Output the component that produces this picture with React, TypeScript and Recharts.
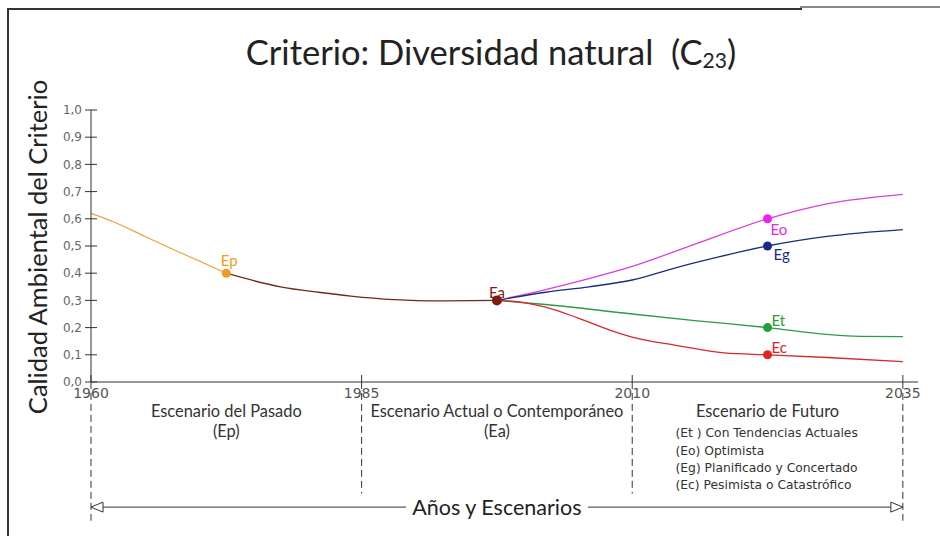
import React from 'react';
import { ComposedChart, Line, XAxis, YAxis, ReferenceDot, ReferenceLine, ReferenceArea } from 'recharts';

// ---------- data ----------
const yearTicks = [1960, 1985, 2010, 2035];
const valueTicks = [0, 0.1, 0.2, 0.3, 0.4, 0.5, 0.6, 0.7, 0.8, 0.9, 1.0];

const pastEarly = [
  { year: 1960, v: 0.62 },
  { year: 1962, v: 0.59 },
  { year: 1965, v: 0.535 },
  { year: 1968, v: 0.48 },
  { year: 1970, v: 0.445 },
  { year: 1972.5, v: 0.4 },
];
const pastLate = [
  { year: 1972.5, v: 0.4 },
  { year: 1977.5, v: 0.35 },
  { year: 1981, v: 0.33 },
  { year: 1984, v: 0.316 },
  { year: 1988, v: 0.303 },
  { year: 1992, v: 0.298 },
  { year: 1997.5, v: 0.3 },
];
const optimista = [
  { year: 1997.5, v: 0.3 },
  { year: 2002, v: 0.34 },
  { year: 2006, v: 0.38 },
  { year: 2010, v: 0.425 },
  { year: 2016, v: 0.51 },
  { year: 2022.5, v: 0.6 },
  { year: 2028, v: 0.655 },
  { year: 2035, v: 0.69 },
];
const planificado = [
  { year: 1997.5, v: 0.3 },
  { year: 2002, v: 0.33 },
  { year: 2006, v: 0.35 },
  { year: 2010, v: 0.375 },
  { year: 2014, v: 0.42 },
  { year: 2018, v: 0.46 },
  { year: 2022.5, v: 0.5 },
  { year: 2028, v: 0.535 },
  { year: 2035, v: 0.56 },
];
const tendencias = [
  { year: 1997.5, v: 0.3 },
  { year: 2002, v: 0.285 },
  { year: 2010, v: 0.25 },
  { year: 2016, v: 0.225 },
  { year: 2022.5, v: 0.2 },
  { year: 2028, v: 0.175 },
  { year: 2031, v: 0.168 },
  { year: 2035, v: 0.167 },
];
const pesimista = [
  { year: 1997.5, v: 0.3 },
  { year: 2000, v: 0.292 },
  { year: 2002, v: 0.275 },
  { year: 2005, v: 0.235 },
  { year: 2008, v: 0.19 },
  { year: 2010, v: 0.165 },
  { year: 2014, v: 0.135 },
  { year: 2018.5, v: 0.107 },
  { year: 2022.5, v: 0.1 },
  { year: 2028, v: 0.09 },
  { year: 2035, v: 0.075 },
];

const markers = [
  { name: 'Ep', year: 1972.5, v: 0.4, color: '#f39a21', r: 4.5, dx: 3, dy: -7, anchor: 'middle' },
  { name: 'Ea', year: 1997.5, v: 0.3, color: '#7f1d10', r: 5, dx: 0, dy: -2, anchor: 'middle' },
  { name: 'Eo', year: 2022.5, v: 0.6, color: '#ee22ee', r: 4.5, dx: 3, dy: 16, anchor: 'start' },
  { name: 'Eg', year: 2022.5, v: 0.5, color: '#1a2a8c', r: 4.5, dx: 6, dy: 14, anchor: 'start' },
  { name: 'Et', year: 2022.5, v: 0.2, color: '#22a03a', r: 4.5, dx: 4, dy: -2, anchor: 'start' },
  { name: 'Ec', year: 2022.5, v: 0.1, color: '#e8201f', r: 4.5, dx: 4, dy: -2, anchor: 'start' },
];

const scenarios = [
  { from: 1960, to: 1985, title: 'Escenario del Pasado', sub: ['(Ep)'], list: [] as string[] },
  { from: 1985, to: 2010, title: 'Escenario Actual o Contemporáneo', sub: ['(Ea)'], list: [] as string[] },
  {
    from: 2010,
    to: 2035,
    title: 'Escenario de Futuro',
    sub: [] as string[],
    list: [
      '(Et ) Con Tendencias Actuales',
      '(Eo) Optimista',
      '(Eg) Planificado y Concertado',
      '(Ec) Pesimista o Catastrófico',
    ],
  },
];

const titleText = 'Criterio: Diversidad natural  (C';
const titleSub = '23';
const yLabel = 'Calidad Ambiental del Criterio';
const xLabel = 'Años y Escenarios';

// ---------- helpers ----------
const fmtVal = (v: number) => v.toFixed(1).replace('.', ',');
const LABEL_FONT = 'Lato, "Open Sans", sans-serif';
const TICK_FONT = '"DejaVu Sans", Verdana, sans-serif';

const YTick = (p: any) => {
  const { x, y, payload } = p;
  return (
    <g>
      <line x1={x + 3} x2={x + 15} y1={y} y2={y} stroke="#333" strokeWidth={1} />
      <text x={x} y={y} dy="0.35em" textAnchor="end" fontSize={12} fontFamily={TICK_FONT} fill="#666">
        {fmtVal(payload.value)}
      </text>
    </g>
  );
};

const XTick = (p: any) => {
  const { x, y, payload } = p;
  return (
    <g>
      <line x1={x} x2={x} y1={y - 13} y2={y + 1} stroke="#333" strokeWidth={1} />
      <text x={x} y={y} dy="0.71em" textAnchor="middle" fontSize={14} fontFamily={TICK_FONT} fill="#555">
        {payload.value}
      </text>
    </g>
  );
};

const ArrowShape = (p: any) => {
  const { x1, y1, x2 } = p;
  const y = y1;
  const mid = (x1 + x2) / 2;
  const gap = 91;
  return (
    <g>
      <line x1={x1 + 12} x2={mid - gap} y1={y} y2={y} stroke="#333" strokeWidth={1} />
      <line x1={mid + gap} x2={x2 - 12} y1={y} y2={y} stroke="#333" strokeWidth={1} />
      <polygon points={`${x1},${y} ${x1 + 12},${y - 5} ${x1 + 12},${y + 5}`} fill="#fff" stroke="#333" strokeWidth={1} />
      <polygon points={`${x2},${y} ${x2 - 12},${y - 5} ${x2 - 12},${y + 5}`} fill="#fff" stroke="#333" strokeWidth={1} />
      <text x={mid} y={y} dy="0.35em" textAnchor="middle" fontSize={21.5} fontFamily={LABEL_FONT} fill="#222">
        {xLabel}
      </text>
    </g>
  );
};

const DashShape = (p: any) => {
  const { x1, y1, x2, y2 } = p;
  return <line x1={x1} y1={y1} x2={x2} y2={y2} stroke="#333" strokeWidth={1} strokeDasharray="7 4" />;
};

const scenarioLabel = (s: typeof scenarios[number]) => (props: any) => {
  const vb = props.viewBox || {};
  const cx = vb.x + vb.width / 2;
  const top = vb.y;
  return (
    <g>
      <text x={cx} y={top + 30} textAnchor="middle" fontSize={16.4} fontFamily={LABEL_FONT} fill="#333">
        {s.title}
      </text>
      {s.sub.map((t, i) => (
        <text key={t} x={cx} y={top + 50 + i * 20} textAnchor="middle" fontSize={16.4} fontFamily={LABEL_FONT} fill="#333">
          {t}
        </text>
      ))}
      {s.list.map((t, i) => (
        <text key={t} x={cx - 92} y={top + 50 + i * 17.3} textAnchor="start" fontSize={12.3} fontFamily={TICK_FONT} fill="#333">
          {t}
        </text>
      ))}
    </g>
  );
};

const markerLabel = (m: typeof markers[number]) => (props: any) => {
  const vb = props.viewBox || {};
  const cx = vb.x + (vb.width || 0) / 2;
  const cy = vb.y + (vb.height || 0) / 2;
  return (
    <text x={cx + m.dx} y={cy + m.dy} textAnchor={m.anchor as any} fontSize={15} fontFamily={LABEL_FONT} fill={m.color}>
      {m.name}
    </text>
  );
};

export default function App() {
  return (
    <div style={{ position: 'absolute', left: 0, top: 0, width: 940, height: 536, background: '#fff', overflow: 'hidden' }}>
      {/* frame */}
      <div style={{ position: 'absolute', left: 7, top: 8, width: 2, height: 528, background: '#333' }} />
      <div style={{ position: 'absolute', left: 7, top: 8, width: 795, height: 2, background: '#333' }} />
      <div style={{ position: 'absolute', left: 800, top: 6, width: 140, height: 2, background: '#888' }} />
      {/* title */}
      <div
        style={{
          position: 'absolute',
          left: 0,
          width: 982,
          top: 33,
          textAlign: 'center',
          fontFamily: LABEL_FONT,
          fontSize: 34.5,
          color: '#222',
          lineHeight: '38px',
          whiteSpace: 'pre',
        }}
      >
        {titleText}
        <span style={{ fontSize: 21, position: 'relative', top: 3 }}>{titleSub}</span>)
      </div>
      {/* y label */}
      <div
        style={{
          position: 'absolute',
          left: 37,
          top: 247,
          transform: 'translate(-50%, -50%) rotate(-90deg)',
          fontFamily: LABEL_FONT,
          fontSize: 25.5,
          color: '#222',
          whiteSpace: 'nowrap',
        }}
      >
        {yLabel}
      </div>
      <div style={{ position: 'absolute', left: 0, top: 0 }}>
        <ComposedChart width={940} height={536} margin={{ top: 110, right: 22, bottom: 124, left: 51 }}>
          <XAxis
            dataKey="year"
            type="number"
            domain={[1960, 2036.4]}
            ticks={yearTicks}
            allowDataOverflow
            height={30}
            tickSize={4}
            tickMargin={2}
            tickLine={false}
            axisLine={{ stroke: '#333', strokeWidth: 1 }}
            tick={<XTick />}
            interval={0}
          />
          <YAxis
            type="number"
            domain={[0, 1]}
            ticks={valueTicks}
            width={40}
            tickSize={6}
            tickMargin={3}
            tickLine={false}
            axisLine={{ stroke: '#333', strokeWidth: 1 }}
            tick={<YTick />}
            interval={0}
          />
          {yearTicks.map((t, i) => (
            <ReferenceLine
              key={'d' + t}
              segment={[
                { x: t, y: -0.04 },
                { x: t, y: i === 0 || i === yearTicks.length - 1 ? -0.51 : -0.41 },
              ]}
              ifOverflow="visible"
              shape={<DashShape />}
            />
          ))}
          <ReferenceLine
            segment={[
              { x: yearTicks[0], y: -0.46 },
              { x: yearTicks[yearTicks.length - 1], y: -0.46 },
            ]}
            ifOverflow="visible"
            shape={<ArrowShape />}
          />
          {scenarios.map((s) => (
            <ReferenceArea
              key={s.title}
              x1={s.from}
              x2={s.to}
              y1={-0.02}
              y2={-0.4}
              ifOverflow="visible"
              fill="none"
              stroke="none"
              label={{ content: scenarioLabel(s) } as any}
            />
          ))}
          <Line data={pastEarly} dataKey="v" type="monotone" stroke="#eba13d" strokeWidth={1.2} dot={false} isAnimationActive={false} />
          <Line data={pastLate} dataKey="v" type="monotone" stroke="#6e2b1c" strokeWidth={1.3} dot={false} isAnimationActive={false} />
          <Line data={optimista} dataKey="v" type="monotone" stroke="#d940d9" strokeWidth={1.3} dot={false} isAnimationActive={false} />
          <Line data={planificado} dataKey="v" type="monotone" stroke="#1c2d7a" strokeWidth={1.3} dot={false} isAnimationActive={false} />
          <Line data={tendencias} dataKey="v" type="monotone" stroke="#2f9a4a" strokeWidth={1.3} dot={false} isAnimationActive={false} />
          <Line data={pesimista} dataKey="v" type="monotone" stroke="#d42a2a" strokeWidth={1.3} dot={false} isAnimationActive={false} />
          {markers.map((m) => (
            <ReferenceDot
              key={m.name}
              x={m.year}
              y={m.v}
              r={m.r}
              fill={m.color}
              stroke="none"
              ifOverflow="visible"
              label={{ content: markerLabel(m) } as any}
            />
          ))}
        </ComposedChart>
      </div>
    </div>
  );
}
